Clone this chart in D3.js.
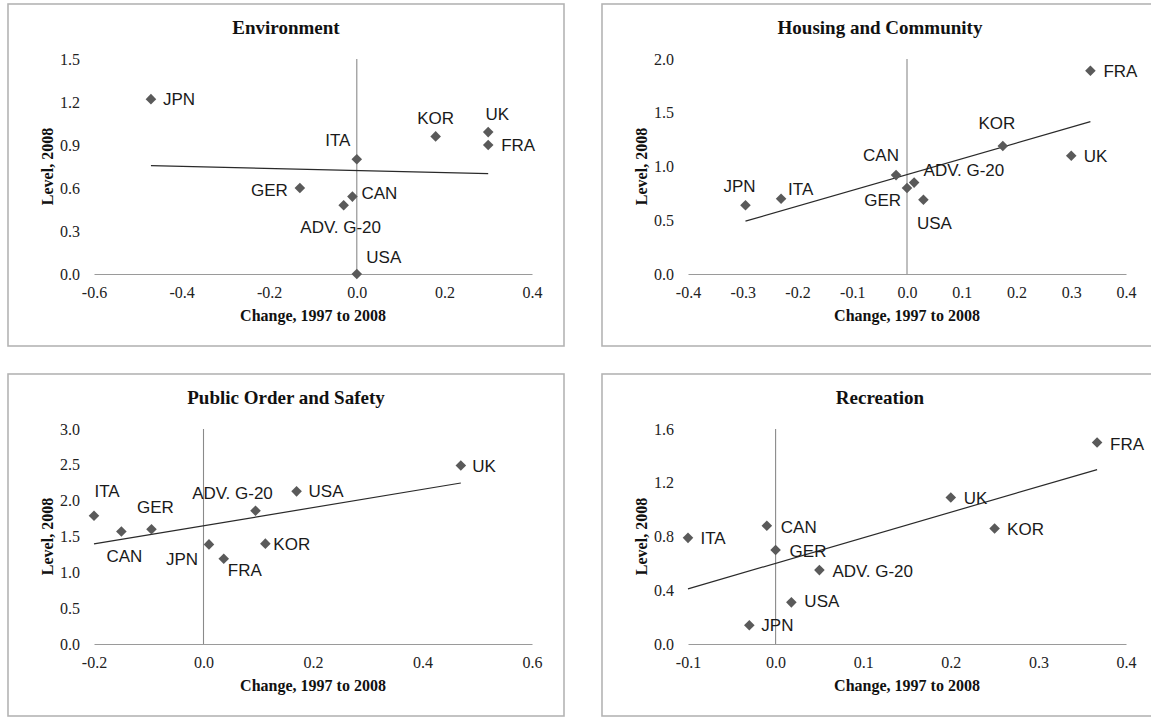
<!DOCTYPE html>
<html>
<head>
<meta charset="utf-8">
<script src="https://cdn.jsdelivr.net/npm/d3@7"></script>
<style>
  html, body { margin: 0; padding: 0; background: #fff; }
  svg { display: block; }
</style>
</head>
<body>
<svg id="chart" width="1151" height="717"></svg>
<script>
// ---------------- DATA ----------------
const countries = ["JPN", "KOR", "UK", "FRA", "ITA", "GER", "CAN", "ADV. G-20", "USA"];

const envChange = [-0.47, 0.18, 0.30, 0.30, 0.00, -0.13, -0.01, -0.03, 0.00];
const envLevel  = [1.22, 0.96, 0.99, 0.90, 0.80, 0.60, 0.54, 0.48, 0.00];

const housingChange = [-0.295, 0.175, 0.30, 0.335, -0.23, 0.00, -0.02, 0.013, 0.03];
const housingLevel  = [0.64, 1.19, 1.10, 1.89, 0.70, 0.80, 0.92, 0.85, 0.69];

const publicChange = [0.01, 0.113, 0.47, 0.037, -0.20, -0.095, -0.15, 0.095, 0.17];
const publicLevel  = [1.39, 1.40, 2.49, 1.19, 1.79, 1.60, 1.57, 1.86, 2.13];

const recChange = [-0.03, 0.25, 0.20, 0.367, -0.10, 0.00, -0.01, 0.05, 0.018];
const recLevel  = [0.14, 0.86, 1.09, 1.50, 0.79, 0.70, 0.88, 0.55, 0.31];

const titles = ["Environment", "Housing and Community", "Public Order and Safety", "Recreation"];
const xAxisTitle = "Change, 1997 to 2008";
const yAxisTitle = "Level, 2008";

const envXTicks = [-0.6, -0.4, -0.2, 0.0, 0.2, 0.4];
const envYTicks = [0.0, 0.3, 0.6, 0.9, 1.2, 1.5];
const housingXTicks = [-0.4, -0.3, -0.2, -0.1, 0.0, 0.1, 0.2, 0.3, 0.4];
const housingYTicks = [0.0, 0.5, 1.0, 1.5, 2.0];
const publicXTicks = [-0.2, 0.0, 0.2, 0.4, 0.6];
const publicYTicks = [0.0, 0.5, 1.0, 1.5, 2.0, 2.5, 3.0];
const recXTicks = [-0.1, 0.0, 0.1, 0.2, 0.3, 0.4];
const recYTicks = [0.0, 0.4, 0.8, 1.2, 1.6];

// ---------------- LAYOUT (label placement per panel, in country order) ----------------
// [anchor, dx, dy] relative to the marker centre
const labelPlacement = [
  [["start",12,0],["middle",0,-19],["middle",9,-18],["start",13,0],["middle",-19,-19],["end",-12,2],["start",9,-4],["middle",-3,22],["middle",27,-17]],
  [["middle",-6,-19],["middle",-6,-23],["start",12.5,0],["start",13,0],["start",7,-10],["end",-6,12],["middle",-15,-20],["start",9.5,-13],["middle",11,23]],
  [["middle",-27,14],["start",8,0],["start",11.5,0],["middle",21,11],["middle",13,-25],["middle",4,-22],["middle",3,24],["middle",-23,-18],["start",12,0]],
  [["start",12,0],["start",12.5,0],["start",13,0],["start",13,1],["start",12.5,0],["start",14,1],["start",14,1],["start",13,1],["start",13,-1]]
];

const panels = [
  { title: titles[0], xs: envChange, ys: envLevel, xt: envXTicks, yt: envYTicks, bx: 8, by: 4 },
  { title: titles[1], xs: housingChange, ys: housingLevel, xt: housingXTicks, yt: housingYTicks, bx: 602, by: 4 },
  { title: titles[2], xs: publicChange, ys: publicLevel, xt: publicXTicks, yt: publicYTicks, bx: 8, by: 374 },
  { title: titles[3], xs: recChange, ys: recLevel, xt: recXTicks, yt: recYTicks, bx: 602, by: 374 }
];

const boxW = 556, boxH = 342;
const plotL = 86, plotR = 524, plotT = 55, plotB = 270;

const serif = "'Liberation Serif', 'Times New Roman', serif";
const sans = "'Liberation Sans', Arial, sans-serif";
const fmt = d3.formatLocale({decimal: ".", thousands: ",", grouping: [3], currency: ["", ""], minus: "-"}).format(".1f");

const svg = d3.select("#chart");
svg.append("rect").attr("width", 1151).attr("height", 717).attr("fill", "#fff");

panels.forEach((p, pi) => {
  const g = svg.append("g").attr("transform", `translate(${p.bx},${p.by})`);

  // frame
  g.append("rect")
    .attr("x", 0).attr("y", 0).attr("width", boxW).attr("height", boxH)
    .attr("fill", "#fff").attr("stroke", "#b4b4b4").attr("stroke-width", 1.6);

  const x = d3.scaleLinear().domain(d3.extent(p.xt)).range([plotL, plotR]);
  const y = d3.scaleLinear().domain(d3.extent(p.yt)).range([plotB, plotT]);

  // title
  g.append("text")
    .attr("x", boxW / 2).attr("y", 29.5)
    .attr("text-anchor", "middle")
    .attr("font-family", serif).attr("font-weight", "bold").attr("font-size", 19)
    .attr("fill", "#111")
    .text(p.title);

  // x axis (horizontal line at y = 0)
  const xAxis = g.append("g")
    .attr("transform", `translate(0,${y(0)})`)
    .call(d3.axisBottom(x).tickValues(p.xt).tickFormat(fmt).tickSize(0).tickPadding(13));
  xAxis.select(".domain").attr("stroke", "#9a9a9a").attr("stroke-width", 1.2);
  xAxis.selectAll("text").attr("font-family", serif).attr("font-size", 16).attr("fill", "#222");

  // y axis (no line)
  const yAxis = g.append("g")
    .attr("transform", `translate(${plotL},0)`)
    .call(d3.axisLeft(y).tickValues(p.yt).tickFormat(fmt).tickSize(0).tickPadding(14));
  yAxis.select(".domain").remove();
  yAxis.selectAll("text").attr("font-family", serif).attr("font-size", 16).attr("fill", "#222");

  // vertical line at x = 0
  g.append("line")
    .attr("x1", x(0)).attr("x2", x(0))
    .attr("y1", y(0)).attr("y2", y(p.yt[p.yt.length - 1]))
    .attr("stroke", "#8a8a8a").attr("stroke-width", 1.1);

  // axis titles
  g.append("text")
    .attr("x", (plotL + plotR) / 2).attr("y", plotB + 47)
    .attr("text-anchor", "middle")
    .attr("font-family", serif).attr("font-weight", "bold").attr("font-size", 16)
    .attr("fill", "#111")
    .text(xAxisTitle);

  g.append("text")
    .attr("transform", `translate(${plotL - 47},${(plotT + plotB) / 2}) rotate(-90)`)
    .attr("text-anchor", "middle").attr("dy", "0.35em")
    .attr("font-family", serif).attr("font-weight", "bold").attr("font-size", 16)
    .attr("fill", "#111")
    .text(yAxisTitle);

  // linear trend (least squares)
  const pts = p.xs.map((v, i) => ({ x: v, y: p.ys[i], name: countries[i], lp: labelPlacement[pi][i] }));
  const mx = d3.mean(pts, d => d.x), my = d3.mean(pts, d => d.y);
  const sxy = d3.sum(pts, d => (d.x - mx) * (d.y - my));
  const sxx = d3.sum(pts, d => (d.x - mx) * (d.x - mx));
  const slope = sxy / sxx, icpt = my - slope * mx;
  const [xmin, xmax] = d3.extent(pts, d => d.x);
  g.append("path")
    .datum([xmin, xmax])
    .attr("d", d3.line().x(d => x(d)).y(d => y(icpt + slope * d)))
    .attr("fill", "none").attr("stroke", "#2a2a2a").attr("stroke-width", 1.2);

  // markers
  const sym = d3.symbol().type(d3.symbolSquare).size(56);
  g.selectAll("path.pt").data(pts).join("path")
    .attr("class", "pt")
    .attr("d", sym)
    .attr("transform", d => `translate(${x(d.x)},${y(d.y)}) rotate(45)`)
    .attr("fill", "#5a5a5a");

  // labels
  g.selectAll("text.lbl").data(pts).join("text")
    .attr("class", "lbl")
    .attr("x", d => x(d.x) + d.lp[1])
    .attr("y", d => y(d.y) + d.lp[2])
    .attr("dy", "0.36em")
    .attr("text-anchor", d => d.lp[0])
    .attr("font-family", sans).attr("font-size", 17)
    .attr("fill", "#1a1a1a")
    .text(d => d.name);
});
</script>
</body>
</html>
